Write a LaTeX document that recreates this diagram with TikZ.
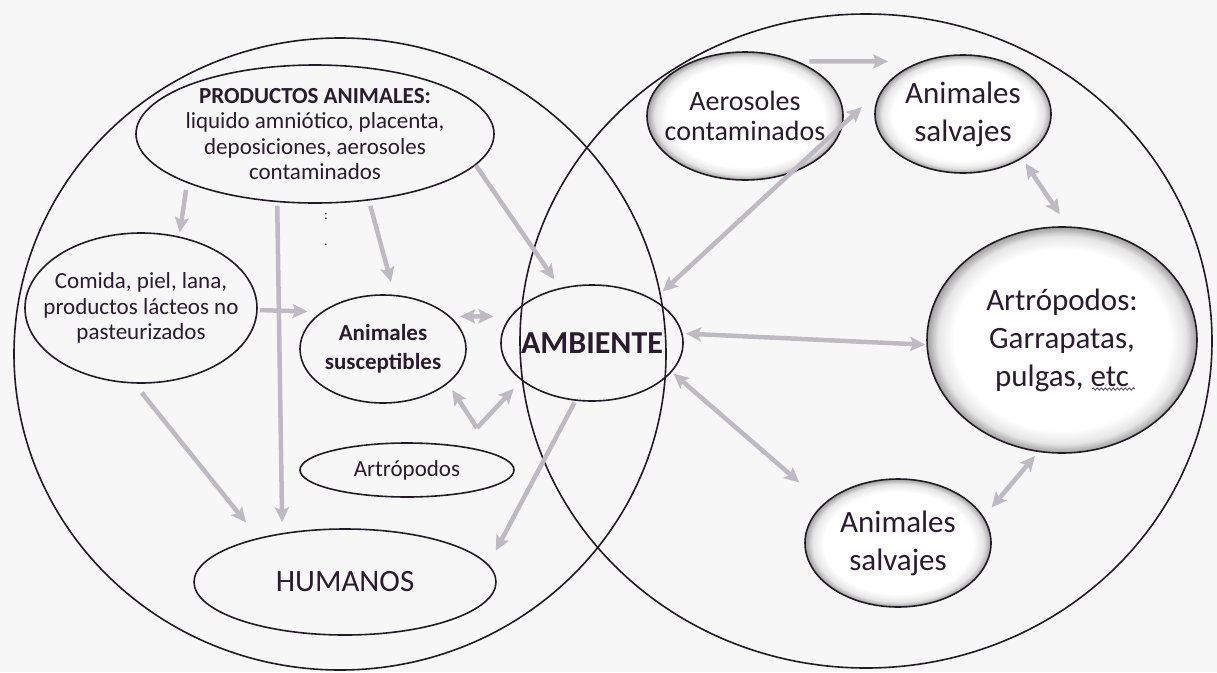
\documentclass[tikz,border=0pt]{standalone}
\usepackage{fontspec}
\setmainfont{Carlito}
\usetikzlibrary{arrows.meta,shapes.geometric,decorations.pathmorphing}
\definecolor{ink}{HTML}{2A1B2E}
\definecolor{edge}{HTML}{221A24}
\definecolor{arrg}{HTML}{BEB9C2}
\definecolor{bgc}{HTML}{F8F7F8}
\pgfdeclareradialshading{glow}{\pgfpoint{0bp}{0bp}}{color(0bp)=(white); color(20bp)=(white); color(23bp)=(black!10); color(25bp)=(black!38); color(50bp)=(black!38)}
\begin{document}
\begin{tikzpicture}[x=1pt,y=-1pt,
  ell/.style={ellipse, draw=edge, line width=1.6pt, inner sep=0pt},
  glowell/.style={ell, shade, shading=glow},
  big/.style={ellipse, draw=edge, line width=1.6pt, inner sep=0pt},
  txt/.style={text=ink, align=center, inner sep=0pt},
  arr/.style={draw=arrg, line width=4.5pt, -{Stealth[length=15pt,width=14pt,inset=3pt]}},
  darr/.style={draw=arrg, line width=4.5pt, {Stealth[length=15pt,width=14pt,inset=3pt]}-{Stealth[length=15pt,width=14pt,inset=3pt]}}]
\useasboundingbox (0,0) rectangle (1217,672);
\fill[bgc] (0,0) rectangle (1217,672);
% big circles
\node[big, minimum width=652pt, minimum height=632pt] (leftC) at (340,354) {};
\node[big, minimum width=692pt, minimum height=654pt] (rightC) at (866,341) {};
% left ellipses
\node[ell, minimum width=358pt, minimum height=138pt] (prod) at (315,134) {};
\node[ell, minimum width=232pt, minimum height=150pt] (com) at (141,308) {};
\node[ell, minimum width=166pt, minimum height=108pt] (sus) at (383,349) {};
\node[ell, minimum width=214pt, minimum height=54pt] (artS) at (407,470) {};
\node[ell, minimum width=302pt, minimum height=106pt] (hum) at (345,582) {};
% right shaded ellipses
\node[glowell, minimum width=196pt, minimum height=128pt] (aer) at (745,116) {};
\node[glowell, minimum width=176pt, minimum height=118pt] (salT) at (963,114) {};
\node[glowell, minimum width=270pt, minimum height=226pt] (artB) at (1062,340) {};
\node[glowell, minimum width=186pt, minimum height=128pt] (salB) at (898,543) {};
% ambiente
\node[ell, minimum width=182pt, minimum height=116pt] (amb) at (592,343) {};
% arrows
\draw[arr, shorten <=7pt, shorten >=4pt] (prod.201) -- (com.62);
\draw[arr, shorten <=3.5pt, shorten >=10.7pt] (prod.241) -- (hum.142);
\draw[arr, shorten <=5.4pt, shorten >=13pt] (prod.309) -- (sus.78);
\draw[arr, shorten >=10.3pt] (prod.349) -- (amb.120);
\draw[arr, shorten <=2pt, shorten >=13.8pt] (com.359) -- (sus.149);
\draw[darr, shorten <=10pt, shorten >=16.6pt] (sus.26) -- (amb.162);
\draw[arr, shorten <=11.6pt, shorten >=19.7pt] (com.265) -- (hum.153);
\coordinate (vx) at (477,428);
\draw[arr, shorten >=7.7pt] (vx) -- (sus.332);
\draw[arr, shorten >=11.2pt] (vx) -- (amb.208);
\draw[arr, shorten <=2pt, shorten >=15.5pt] (amb.254) -- (hum.7);
\draw[arr, shorten <=11.4pt, shorten >=32.4pt] (aer.46) -- (salT.129);
\draw[darr, shorten <=12pt, shorten >=30pt] (amb.35) -- (salT.161);
\draw[darr, shorten <=6pt, shorten >=14.6pt] (salT.323) -- (artB.87);
\draw[darr, shorten <=3.4pt, shorten >=1pt] (amb.6) -- (artB.182);
\draw[darr, shorten <=2.3pt, shorten >=32pt] (amb.340) -- (salB.152);
\draw[darr, shorten <=12.2pt, shorten >=5pt] (salB.17) -- (artB.258);
% texts
\node[txt, font=\fontsize{23}{25.5}\selectfont] (prodT) at (prod) {\textbf{PRODUCTOS ANIMALES:}\\liquido amniótico, placenta,\\deposiciones, aerosoles\\contaminados};
\node[txt, font=\fontsize{23}{25.5}\selectfont] (comT) at (com) {Comida, piel, lana,\\productos lácteos no\\pasteurizados};
\node[txt, font=\fontsize{23}{29}\selectfont\bfseries] (susT) at (sus) {Animales\\susceptibles};
\node[txt, font=\fontsize{32}{36}\selectfont\bfseries] (ambT) at (amb) {AMBIENTE};
\node[txt, font=\fontsize{23}{26}\selectfont] (artST) at (artS) {Artrópodos};
\node[txt, font=\fontsize{31}{36}\selectfont] (humT) at (hum) {HUMANOS};
\node[txt, font=\fontsize{28}{30}\selectfont] (aerT) at (aer) {Aerosoles\\contaminados};
\node[txt, font=\fontsize{31}{38}\selectfont] (salTT) at (salT) {Animales\\salvajes};
\node[txt, font=\fontsize{31}{38}\selectfont] (artBT) at (artB) {Artrópodos:\\Garrapatas,\\pulgas, etc};
\node[txt, font=\fontsize{31}{38}\selectfont] (salBT) at (salB) {Animales\\salvajes};
\node[txt, font=\fontsize{14}{14}\selectfont] (dot1) at (326,216) {:};
\node[txt, font=\fontsize{14}{14}\selectfont] (dot2) at (326,245) {.};
\draw[ink!80, line width=0.8pt, decorate, decoration={snake, amplitude=1.2pt, segment length=4pt}] ([shift={(30,49)}]artB.center) -- ([shift={(73,49)}]artB.center);
\end{tikzpicture}
\end{document}
